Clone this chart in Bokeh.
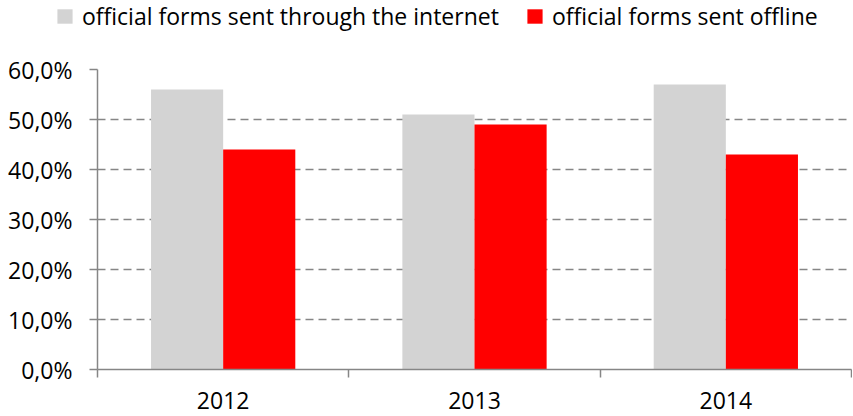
from bokeh.plotting import figure
from bokeh.models import Range1d, FixedTicker, Legend, LegendItem, ColumnDataSource
from bokeh.embed import file_html
from bokeh.resources import INLINE
import numpy as np

years = ["2012", "2013", "2014"]
internet = [56.0, 51.0, 57.0]
offline = [44.0, 49.0, 43.0]
y_ticks = [0, 10, 20, 30, 40, 50, 60]
y_tick_labels = ["0,0%", "10,0%", "20,0%", "30,0%", "40,0%", "50,0%", "60,0%"]
series_names = ["official forms sent through the internet", "official forms sent offline"]

FONT = "Open Sans"
FS = "23px"
AXIS_C = "#868686"
GRAY = "#d3d3d3"
RED = "#ff0000"
BW = 0.287

idx = np.arange(len(years)) + 0.5
src = ColumnDataSource(dict(
    x_int=idx - BW / 2, x_off=idx + BW / 2, internet=internet, offline=offline,
))

# ---- legend strip: its own small figure (separate root, so no frame alignment) ----
lf = figure(width=851, height=40, output_backend="svg", toolbar_location=None,
            x_axis_location=None, y_axis_location=None,
            x_range=Range1d(100, 101), y_range=Range1d(0, 60),
            min_border_left=55, min_border_top=0, min_border_right=0, min_border_bottom=0)
lf.outline_line_color = None
lf.grid.visible = False
l1 = lf.vbar(x="x_int", top="internet", width=BW, bottom=0, source=src,
             fill_color=GRAY, line_color=None, visible=False)
l2 = lf.vbar(x="x_off", top="offline", width=BW, bottom=0, source=src,
             fill_color=RED, line_color=None, visible=False)
lg = Legend(items=[LegendItem(label=series_names[0], renderers=[l1]),
                   LegendItem(label=series_names[1], renderers=[l2])],
            location="top_left", orientation="horizontal", spacing=26,
            glyph_width=19, glyph_height=18,
            label_standoff=8, padding=0, margin=0, border_line_color=None,
            background_fill_alpha=0, inactive_fill_alpha=0, label_text_font=FONT,
            label_text_font_size=FS, label_text_color="black")
lf.add_layout(lg, "center")

# ---- main chart ----
p = figure(width=852, height=374, output_backend="svg", toolbar_location=None,
           x_range=Range1d(0, len(years)), y_range=Range1d(0, 60),
           min_border_left=97, min_border_right=1, min_border_top=29, min_border_bottom=45)
p.outline_line_color = None
p.background_fill_color = "white"
p.border_fill_color = "white"

p.vbar(x="x_int", top="internet", width=BW, bottom=0, source=src,
       fill_color=GRAY, line_color=None)
p.vbar(x="x_off", top="offline", width=BW, bottom=0, source=src,
       fill_color=RED, line_color=None)

# x axis
p.xaxis.ticker = FixedTicker(ticks=list(idx), minor_ticks=list(range(len(years) + 1)))
p.xaxis.major_label_overrides = {float(v): y for v, y in zip(idx, years)}
p.xaxis.major_tick_line_color = None
p.xaxis.minor_tick_in = 0
p.xaxis.minor_tick_out = 8
p.xaxis.minor_tick_line_color = AXIS_C
p.xaxis.minor_tick_line_width = 1.5
p.xaxis.axis_line_color = AXIS_C
p.xaxis.axis_line_width = 1.5
p.xaxis.major_label_text_font = FONT
p.xaxis.major_label_text_font_size = FS
p.xaxis.major_label_text_color = "black"
p.xaxis.major_label_standoff = 14

# y axis
p.yaxis.ticker = FixedTicker(ticks=y_ticks, minor_ticks=[])
p.yaxis.major_label_overrides = {v: l for v, l in zip(y_ticks, y_tick_labels)}
p.yaxis.major_tick_in = 0
p.yaxis.major_tick_out = 8
p.yaxis.major_tick_line_color = AXIS_C
p.yaxis.major_tick_line_width = 1.5
p.yaxis.axis_line_color = AXIS_C
p.yaxis.axis_line_width = 1.5
p.yaxis.major_label_text_font = FONT
p.yaxis.major_label_text_font_size = FS
p.yaxis.major_label_text_color = "black"
p.yaxis.major_label_standoff = 17

# grid
p.xgrid.grid_line_color = None
p.ygrid.ticker = FixedTicker(ticks=y_ticks[1:])
p.ygrid.grid_line_color = AXIS_C
p.ygrid.grid_line_width = 1.5
p.ygrid.grid_line_dash = "8 5"

open("out.html", "w").write(file_html([lf, p], INLINE))
